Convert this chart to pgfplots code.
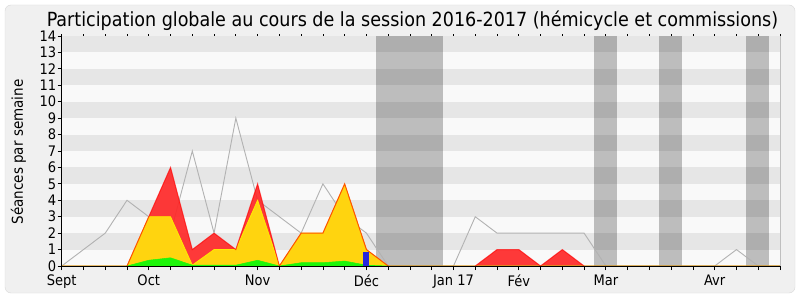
\documentclass[border=0pt]{standalone}
\usepackage{pgfplots}
\pgfplotsset{compat=1.18}
\usepackage{pgfplotstable}
\usepackage{fontspec}
\setmainfont{DejaVu Sans Condensed}
\definecolor{bgout}{RGB}{240,240,240}
\definecolor{stripeL}{RGB}{249,249,249}
\definecolor{stripeD}{RGB}{230,230,230}
\definecolor{totgrey}{RGB}{178,178,178}
\definecolor{redfill}{RGB}{255,37,37}
\definecolor{yelfill}{RGB}{255,212,15}
\definecolor{yelline}{RGB}{255,235,0}
\definecolor{grnfill}{RGB}{30,245,10}
\definecolor{bluebar}{RGB}{40,40,220}
\definecolor{baseline}{RGB}{90,20,0}

\pgfplotstableread{
w tot red yel grn
0 0 0 0 0
1 1 0 0 0
2 2 0 0 0
3 4 0 0 0
4 3 3 3 0.35
5 2 6 3 0.5
6 7 1 0.05 0.05
7 2 2 1 0.05
8 9 1 1 0.05
9 4 5 4 0.35
10 3 0 0 0
11 2 2 2 0.2
12 5 2 2 0.2
13 3 5 5 0.3
14 2 1 1 0.05
15 0 0 0 0
16 0 0 0 0
17 0 0 0 0
18 0 0 0 0
19 3 0 0 0
20 2 1 0 0
21 2 1 0 0
22 2 0 0 0
23 2 1 0 0
24 2 0 0 0
25 0 0 0 0
26 0 0 0 0
27 0 0 0 0
28 0 0 0 0
29 0 0 0 0
30 0 0 0 0
31 1 0 0 0
32 0 0 0 0
33 0 0 0 0
}\data

\begin{document}
\begin{tikzpicture}
\useasboundingbox (0pt,0pt) rectangle (800pt,300pt);
\fill[white] (0pt,0pt) rectangle (800pt,300pt);
\draw[draw=black!15, fill=bgout, rounded corners=6pt] (5pt,7pt) rectangle (795pt,295pt);
\node[font=\fontsize{19.5}{21}\selectfont, inner sep=0pt, anchor=base] at (412.5pt,273pt) {Participation globale au cours de la session 2016-2017 (hémicycle et commissions)};
\node[rotate=90, font=\fontsize{15}{17}\selectfont, inner sep=0pt] at (18.5pt,148pt) {Séances par semaine};
\begin{axis}[
  at={(61.7pt,34pt)}, anchor=south west, scale only axis,
  width=718.3pt, height=230pt,
  xmin=0, xmax=33, ymin=0, ymax=14,
  axis line style={draw=none},
  clip=false, axis on top,
  xtick={0,4,9,14,18,21,25,30},
  xticklabels={Sept,Oct,Nov,Déc,Jan 17,Fév,Mar,Avr},
  minor xtick={0,...,33},
  ytick={0,...,14},
  xtick pos=left, ytick pos=left,
  tick align=outside,
  major tick length=4pt, minor tick length=4pt,
  tick style={black, line width=0.8pt},
  ticklabel style={font=\fontsize{14.5}{15}\selectfont},
  /pgf/number format/assume math mode=true,
  xticklabel style={yshift=-1pt},
  yticklabel style={xshift=2pt},
]
% background stripes
\fill[stripeL] (axis cs:0,0) rectangle (axis cs:33,14);
\pgfplotsinvokeforeach{1,3,5,7,9,11,13}{
  \fill[stripeD] (axis cs:0,#1) rectangle (axis cs:33,#1+1);
}
% vacation bands
\addplot[draw=none, fill=black, fill opacity=0.24] coordinates {(14.45,0) (14.45,14) (17.5,14) (17.5,0)} --cycle;
\addplot[draw=none, fill=black, fill opacity=0.24] coordinates {(24.45,0) (24.45,14) (25.5,14) (25.5,0)} --cycle;
\addplot[draw=none, fill=black, fill opacity=0.24] coordinates {(27.45,0) (27.45,14) (28.5,14) (28.5,0)} --cycle;
\addplot[draw=none, fill=black, fill opacity=0.24] coordinates {(31.45,0) (31.45,14) (32.5,14) (32.5,0)} --cycle;
% total line
\addplot[totgrey, line width=0.9pt, mark=none] table[x=w, y=tot]{\data};
% areas
\addplot[draw=none, fill=redfill, fill opacity=0.9] table[x=w, y=red]{\data} \closedcycle;
\addplot[draw=yelline, line width=0.8pt, fill=yelfill] table[x=w, y=yel]{\data} \closedcycle;
\addplot[draw=grnfill, line width=0.5pt, fill=grnfill] table[x=w, y=grn]{\data} \closedcycle;
\addplot[red, line width=1pt, draw opacity=0.65, mark=none] table[x=w, y=red]{\data};
% blue bar
\addplot[draw=none, fill=bluebar] coordinates {(13.82,0) (13.82,0.86) (14.1,0.86) (14.1,0)} --cycle;
% axis lines
\draw[black, line width=0.8pt] (axis cs:0,0) -- (axis cs:0,14);
\draw[black!25, line width=0.6pt] (axis cs:33,0) -- (axis cs:33,14);
\draw[baseline, line width=1pt] (axis cs:0,0) -- (axis cs:33,0);
\pgfplotsinvokeforeach{0,...,33}{
  \draw[black, line width=0.8pt] (axis cs:#1,14) -- ++(0,1.5pt);
}
\end{axis}
\end{tikzpicture}
\end{document}
